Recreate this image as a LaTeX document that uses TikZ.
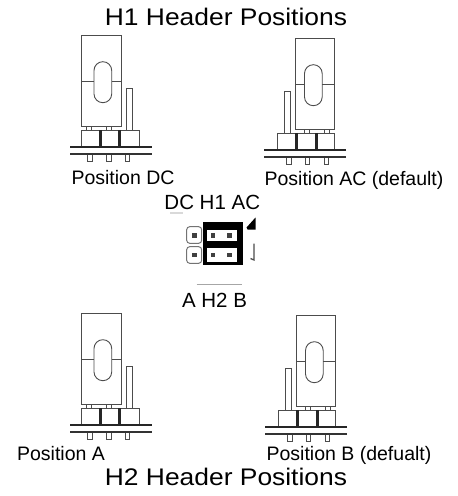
\documentclass[tikz,border=0pt]{standalone}
\usepackage{fontspec}
\setmainfont{Liberation Sans}
\newfontfamily\titlefont[FakeStretch=1.1]{Liberation Sans}
\tikzset{
  jline/.style={draw=black!70, line width=0.9bp},
  divider/.style={draw=black!85, line width=3bp},
  baseline1/.style={draw=black!85, line width=2bp},
  baseline2/.style={draw=black!80, line width=1.3bp},
  lbl/.style={anchor=base, inner sep=0pt, font=\fontsize{19.5bp}{23bp}\selectfont},
  clbl/.style={anchor=base, inner sep=0pt, font=\fontsize{20.5bp}{24bp}\selectfont},
  ttl/.style={anchor=base, inner sep=0pt, font=\titlefont\fontsize{24bp}{28bp}\selectfont},
  pindot/.style={fill=black!75},
  jumper/.pic={
    % cap
    \draw[jline] (0,-95) rectangle (39.3,-3.5);
    \draw[jline] (0,-48.3) -- (12.3,-48.3);
    \draw[jline] (30,-48.3) -- (39.3,-48.3);
    \draw[jline, rounded corners=8.8bp] (12.3,-68.3) rectangle (30,-27.3);
    % tall pin
    \draw[jline] (44.5,-42) rectangle (50.3,0);
    % pins between cap and blocks
    \draw[jline] (5,-3.5) -- (5,0) (10,-3.5) -- (10,0) (25,-3.5) -- (25,0) (30,-3.5) -- (30,0);
    % blocks
    \draw[jline] (0,0) rectangle (57.5,16);
    \draw[divider] (18.3,0) -- (18.3,16) (37.8,0) -- (37.8,16);
    % board lines
    \draw[baseline1] (-11.7,16.7) -- (70.6,16.7);
    \draw[baseline2] (-11.7,24) -- (70.6,24);
    % pins below
    \foreach \px in {6,25,43.5}
      \draw[jline] (\px,24.6) -- (\px,31.5) -- (\px+4.5,31.5) -- (\px+4.5,24.6);
  }
}
\begin{document}
\begin{tikzpicture}[x=1bp,y=-1bp]
\useasboundingbox (0,0) rectangle (458,496);
% titles
\node[ttl] (t1) at (226,26) {H1 Header Positions};
\node[ttl] (t2) at (226,485) {H2 Header Positions};
% jumpers
\pic at (81.7,130) {jumper};
\pic[xscale=-1] at (334.5,133) {jumper};
\pic at (81.7,408) {jumper};
\pic[xscale=-1] at (335.5,410) {jumper};
% labels
\node[lbl] (pdc) at (123,185) {Position DC};
\node[lbl] (pac) at (354,185.5) {Position AC (default)};
\node[lbl] (pa)  at (61,460.5) {Position A};
\node[lbl] (pb)  at (349,460) {Position B (defualt)};
\node[clbl] (h1) at (212.3,209) {DC H1 AC};
\node[clbl] (h2) at (214.5,307) {A H2 B};
% center header view
\draw[black!15, line width=1.5bp] (170,213) -- (183,213);
\draw[black!35, line width=1.5bp] (196.7,284.7) -- (241.7,284.7);
\draw[draw=black!55, line width=1bp, rounded corners=3bp] (186.7,226.7) rectangle (201.7,243.3);
\draw[draw=black!55, line width=1bp, rounded corners=3bp] (186.7,246.7) rectangle (201.7,263.3);
\fill[black] (203.3,222.3) rectangle (243.3,265);
\fill[white] (206.7,230) rectangle (236.7,241);
\fill[white] (206.7,248) rectangle (236.5,261.5);
\foreach \dx in {194.2,213,229.5}
  \foreach \dy in {235.5,254.8}
    \fill[pindot] (\dx-2.3,\dy-2.3) rectangle (\dx+2.3,\dy+2.3);
\fill[black] (255.5,217.5) -- (246.5,227.5) -- (247.5,229.5) -- (255.5,229.5) -- cycle;
\draw[black!70, line width=1.3bp] (254,243.5) -- (254,260) -- (250.5,258.5);
\end{tikzpicture}
\end{document}
